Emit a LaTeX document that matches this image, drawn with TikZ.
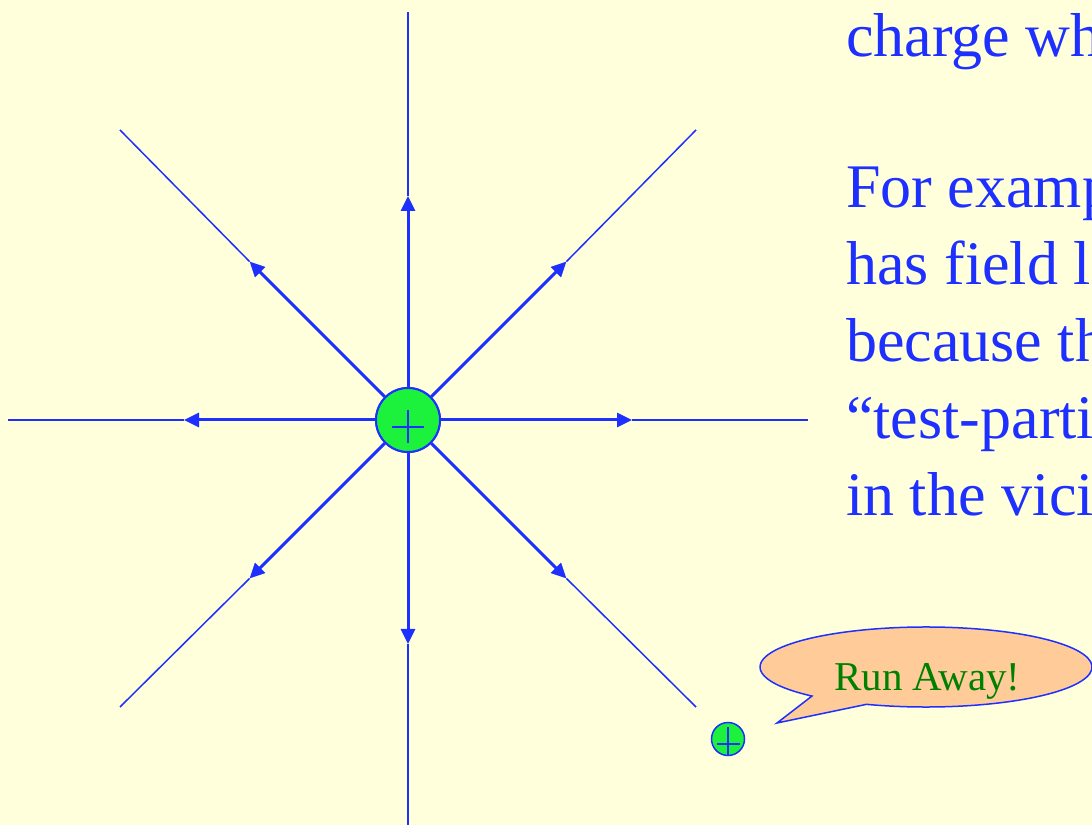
\documentclass[tikz,border=0pt]{standalone}
\usepackage{fontspec}
\setmainfont{Liberation Serif}
\usetikzlibrary{arrows.meta}
\definecolor{bgyellow}{RGB}{255,255,220}
\definecolor{fieldblue}{RGB}{30,48,255}
\definecolor{chargegreen}{RGB}{28,242,60}
\definecolor{bubblepeach}{RGB}{255,204,153}
\definecolor{textgreen}{RGB}{0,128,0}
\tikzset{
  charge/.style={circle, draw=fieldblue, line width=2pt, fill=chargegreen, inner sep=0pt},
  nearline/.style={draw=fieldblue, line width=3pt, -{Triangle[length=15pt,width=14pt]}},
  farline/.style={draw=fieldblue, line width=1.5pt},
  plussign/.style={draw=fieldblue, line width=2.5pt},
  bodytext/.style={anchor=base west, inner sep=0pt, text=fieldblue, font=\fontsize{62}{77}\selectfont},
  bubble/.style={draw=fieldblue, line width=1.5pt, fill=bubblepeach},
  bubbletext/.style={anchor=base west, inner sep=0pt, text=textgreen, font=\fontsize{41}{48}\selectfont}
}
\begin{document}
\begin{tikzpicture}[x=1pt,y=1pt]
\useasboundingbox (0,0) rectangle (1092,825);
\clip (0,0) rectangle (1092,825);
\fill[bgyellow] (0,0) rectangle (1092,825);

% central charge
\node[charge, minimum size=64pt] (q) at (408,405) {};

% arrow tips (distance 224 from centre)
\coordinate (tN) at (408,629);
\coordinate (tS) at (408,181);
\coordinate (tW) at (184,405);
\coordinate (tE) at (632,405);
\coordinate (tNW) at (249.6,563.4);
\coordinate (tNE) at (566.4,563.4);
\coordinate (tSW) at (249.6,246.6);
\coordinate (tSE) at (566.4,246.6);
% far ends
\coordinate (eN) at (408,813);
\coordinate (eS) at (408,0);
\coordinate (eW) at (8,405);
\coordinate (eE) at (808,405);
\coordinate (eNW) at (120,695);
\coordinate (eNE) at (696,695);
\coordinate (eSW) at (120,118);
\coordinate (eSE) at (696,118);

\foreach \d in {N,S,W,E,NW,NE,SW,SE}{
  \draw[farline] (t\d) -- (e\d);
  \draw[nearline] (q) -- (t\d);
}

% redraw charge on top
\node[charge, minimum size=64pt] (q2) at (408,405) {};
\coordinate (qpl) at (392,398);
\coordinate (qpr) at (424,398);
\coordinate (qpt) at (408,415);
\coordinate (qpb) at (408,382);
\draw[plussign] (qpl) -- (qpr);
\draw[plussign] (qpt) -- (qpb);

% test charge
\node[charge, minimum size=33pt, line width=1.5pt] (t) at (728,86) {};
\coordinate (tpl) at (717,81);
\coordinate (tpr) at (740,81);
\coordinate (tpt) at (728,98);
\coordinate (tpb) at (728,70);
\draw[plussign, line width=1.5pt] (tpl) -- (tpr);
\draw[plussign, line width=1.5pt] (tpt) -- (tpb);

% speech bubble
\coordinate (bc) at (926,158);
\coordinate (btip) at (777,102);
\draw[bubble] (bc) ++(249:166pt and 40pt)
  arc[start angle=249, end angle=586.6, x radius=166pt, y radius=40pt]
  -- (btip) -- cycle;
\node[bubbletext] (run) at (834,135) {Run Away!};

% body text
\node[bodytext] (l1) at (846,768) {charge wh};
\node[bodytext] (l2) at (846,617) {For examp};
\node[bodytext] (l3) at (846,540) {has field l};
\node[bodytext] (l4) at (846,463) {because th};
\node[bodytext] (l5) at (846,386) {“test-parti};
\node[bodytext] (l6) at (846,309) {in the vici};
\end{tikzpicture}
\end{document}
